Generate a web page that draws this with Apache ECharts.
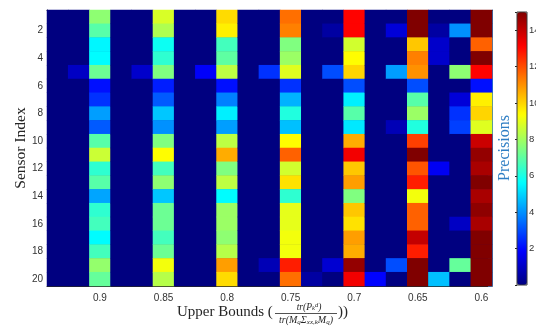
<!DOCTYPE html>
<html>
<head>
<meta charset="utf-8">
<script src="https://cdn.jsdelivr.net/npm/echarts@6/dist/echarts.min.js"></script>
<style>
  html, body { margin: 0; padding: 0; background: #fff; }
  #main { width: 536px; height: 327px; }
</style>
</head>
<body>
<div id="main"></div>
<script>
// upper bound of each column (left to right), sensor rows top to bottom
const boundLabels = ['0.933', '0.917', '0.9', '0.883', '0.867', '0.85', '0.833', '0.817', '0.8', '0.783', '0.767',
  '0.75', '0.733', '0.717', '0.7', '0.683', '0.667', '0.65', '0.633', '0.617', '0.6'];
const tickBounds = ['0.9', '0.85', '0.8', '0.75', '0.7', '0.65', '0.6'];
const sensorLabels = ['1', '2', '3', '4', '5', '6', '7', '8', '9', '10',
  '11', '12', '13', '14', '15', '16', '17', '18', '19', '20'];
const colorbarTicks = [2, 4, 6, 8, 10, 12, 14];

// precision per sensor for each upper bound
const ub0933 = [0, 0, 0, 0, 0, 0, 0, 0, 0, 0, 0, 0, 0, 0, 0, 0, 0, 0, 0, 0];
const ub0917 = [0, 0, 0, 0, 1.0, 0, 0, 0, 0, 0, 0, 0, 0, 0, 0, 0, 0, 0, 0, 0];
const ub0900 = [7.7, 6.9, 5.5, 5.6, 7.2, 2.1, 2.6, 4.2, 3.2, 6.9, 8.6, 6.3, 6.9, 4.3, 6.3, 6.6, 5.6, 6.6, 7.8, 7.1];
const ub0883 = [0, 0, 0, 0, 0, 0, 0, 0, 0, 0, 0, 0, 0, 0, 0, 0, 0, 0, 0, 0];
const ub0867 = [0, 0, 0, 0, 1.1, 0, 0, 0, 0, 0, 0, 0, 0, 0, 0, 0, 0, 0, 0, 0];
const ub0850 = [8.8, 8.2, 5.8, 6.3, 7.5, 2.3, 3.2, 4.8, 4.0, 7.5, 9.4, 6.6, 7.7, 4.8, 7.2, 7.2, 6.6, 7.2, 9.2, 8.3];
const ub0833 = [0, 0, 0, 0, 0, 0, 0, 0, 0, 0, 0, 0, 0, 0, 0, 0, 0, 0, 0, 0];
const ub0817 = [0, 0, 0, 0, 1.8, 0, 0, 0, 0, 0, 0, 0, 0, 0, 0, 0, 0, 0, 0, 0];
const ub0800 = [9.9, 9.6, 6.6, 7.0, 8.4, 2.1, 3.75, 5.4, 4.2, 8.4, 10.6, 7.5, 8.4, 5.6, 7.9, 7.9, 7.7, 8.3, 10.8, 9.9];
const ub0783 = [0, 0, 0, 0, 0, 0, 0, 0, 0, 0, 0, 0, 0, 0, 0, 0, 0, 0, 0, 0];
const ub0767 = [0, 0, 0, 0, 2.6, 0, 0, 0, 0, 0, 0, 0, 0, 0, 0, 0, 0, 0, 0.8, 0];
const ub0750 = [11.5, 11.25, 7.5, 7.9, 8.9, 2.6, 4.5, 6.1, 4.7, 9.4, 11.7, 8.7, 9.8, 6.3, 9.0, 9.0, 9.2, 9.2, 12.7, 11.5];
const ub0733 = [0, 0, 0, 0, 0, 0, 0, 0, 0, 0, 0, 0, 0, 0, 0, 0, 0, 0, 0, 0.5];
const ub0717 = [0, 0.5, 0, 0, 3.0, 0, 0, 0, 0, 0, 0, 0, 0, 0, 0, 0, 0, 0, 1.2, 0];
const ub0700 = [13.1, 13.1, 8.7, 9.4, 10.0, 3.0, 5.4, 6.9, 5.3, 10.6, 13.3, 10.2, 10.8, 7.5, 10.2, 9.8, 10.8, 10.6, 14.7, 13.3];
const ub0683 = [0, 0, 0, 0, 0, 0, 0, 0, 0, 0, 0, 0, 0, 0, 0, 0, 0, 0, 0, 1.9];
const ub0667 = [0, 1.3, 0, 0, 4.2, 0, 0, 0, 0.8, 0, 0, 0, 0, 0, 0, 0, 0, 0, 3.0, 0];
const ub0650 = [15, 15, 10.2, 11.25, 11.0, 3.0, 6.9, 7.9, 6.1, 12.2, 15, 11.9, 12.7, 9.2, 11.7, 11.7, 14.0, 12.7, 15, 15];
const ub0633 = [0, 0.5, 1.1, 1.1, 0, 0, 0, 0, 0, 0, 0, 1.7, 0, 0, 0, 0, 0, 0, 0, 4.7];
const ub0617 = [0, 4.0, 0, 0, 7.7, 0, 1.3, 2.6, 2.8, 0, 0, 0, 0, 0, 0, 1.0, 0, 0, 7.1, 0];
const ub0600 = [15, 15, 11.7, 15, 13.1, 2.1, 9.6, 10.0, 8.9, 13.9, 14.7, 14.4, 15, 14.4, 14.8, 14.4, 15, 15, 15, 15];

const columns = [ub0933, ub0917, ub0900, ub0883, ub0867, ub0850, ub0833, ub0817, ub0800, ub0783, ub0767,
  ub0750, ub0733, ub0717, ub0700, ub0683, ub0667, ub0650, ub0633, ub0617, ub0600];

// jet colormap
const jet = ['#000080', '#0000ff', '#0080ff', '#00ffff', '#80ff80', '#ffff00', '#ff8000', '#ff0000', '#800000'];

let heatData = [];
columns.forEach((col, ci) => {
  col.forEach((v, ri) => {
    heatData.push([ci, ri, v]);
  });
});

const axisColor = '#262626';
const blueAxis = '#2e7ec4';
const serif = 'Liberation Serif';
const sans = 'Liberation Sans';

let chartDom = document.getElementById('main');
let myChart = echarts.init(chartDom, null, { renderer: 'canvas' });

let showBound = (idx, val) => tickBounds.indexOf(val) >= 0;
let showSensor = (idx) => idx % 2 === 1;

let option = {
  animation: false,
  backgroundColor: '#fff',
  grid: [
    // navy background hides the seams between heatmap cells
    { left: 47, right: 44, top: 10, bottom: 41, show: true, backgroundColor: '#000080', borderWidth: 0,
      outerBoundsMode: 'none' },
    // colorbar frame + tick labels; labels may run off the page like in the original
    { left: 517, top: 12, width: 10, height: 273, show: true, z: 10, outerBoundsMode: 'none',
      backgroundColor: 'transparent', borderColor: '#3a3a3a', borderWidth: 1 }
  ],
  xAxis: [
    {
      type: 'category', gridIndex: 0, data: boundLabels, position: 'bottom',
      axisLine: { lineStyle: { color: axisColor, width: 1 } },
      axisTick: { inside: true, length: 4, alignWithLabel: true, interval: showBound, lineStyle: { color: axisColor } },
      axisLabel: { interval: showBound, color: '#333', fontSize: 10, fontFamily: sans, margin: 7 },
      splitLine: { show: false },
      splitArea: { show: false }
    },
    {
      type: 'category', gridIndex: 0, data: boundLabels, position: 'top',
      axisLine: { lineStyle: { color: axisColor, width: 1 } },
      axisTick: { inside: true, length: 4, alignWithLabel: true, interval: showBound, lineStyle: { color: axisColor } },
      axisLabel: { show: false },
      splitLine: { show: false }
    },
    { type: 'value', gridIndex: 1, show: false }
  ],
  yAxis: [
    {
      type: 'category', gridIndex: 0, data: sensorLabels, inverse: true, position: 'left',
      name: 'Sensor Index', nameLocation: 'middle', nameRotate: 90, nameGap: 18, nameMoveOverlap: false,
      nameTextStyle: { fontFamily: serif, fontSize: 15.5, color: axisColor },
      axisLine: { lineStyle: { color: axisColor, width: 1 } },
      axisTick: { inside: true, length: 4, alignWithLabel: true, interval: showSensor, lineStyle: { color: axisColor } },
      axisLabel: { interval: showSensor, color: '#333', fontSize: 10, fontFamily: sans, margin: 4 },
      splitLine: { show: false },
      splitArea: { show: false }
    },
    {
      type: 'value', gridIndex: 0, position: 'right', min: 0, max: 10, interval: 1,
      name: 'Precisions', nameLocation: 'middle', nameRotate: 90, nameGap: 5, nameMoveOverlap: false,
      nameTextStyle: { fontFamily: serif, fontSize: 16, color: blueAxis },
      axisLine: { show: true, lineStyle: { color: blueAxis, width: 1 } },
      axisTick: { show: true, inside: true, length: 4, lineStyle: { color: blueAxis } },
      axisLabel: { show: false },
      splitLine: { show: false }
    },
    {
      type: 'value', gridIndex: 1, position: 'right', min: 0, max: 15, interval: 2,
      axisLine: { show: false },
      axisTick: { show: true, inside: true, length: 2, lineStyle: { color: axisColor } },
      axisLabel: {
        show: true, align: 'left', color: '#333', fontSize: 9.5, fontFamily: sans, margin: 2,
        formatter: (v) => (colorbarTicks.indexOf(v) >= 0 ? String(v) : '')
      },
      splitLine: { show: false }
    }
  ],
  visualMap: {
    type: 'continuous',
    seriesIndex: 0,
    dimension: 2,
    min: 0,
    max: 15,
    calculable: false,
    orient: 'vertical',
    left: 517,
    top: 12,
    z: 1,
    itemWidth: 10,
    itemHeight: 273,
    padding: 0,
    text: null,
    showLabel: false,
    inRange: { color: jet }
  },
  graphic: [
    {
      type: 'text', left: 177, top: 305,
      style: { text: 'Upper Bounds (', font: '15px "Liberation Serif"', fill: axisColor }
    },
    {
      type: 'text', x: 309, y: 307,
      style: {
        text: '{a|tr(P}{b|k}{c|d}{a|)}', align: 'center', verticalAlign: 'middle',
        rich: {
          a: { fontFamily: serif, fontStyle: 'italic', fontSize: 9.5, fill: axisColor, verticalAlign: 'middle' },
          b: { fontFamily: serif, fontStyle: 'italic', fontSize: 6.5, fill: axisColor, verticalAlign: 'bottom' },
          c: { fontFamily: serif, fontStyle: 'italic', fontSize: 6.5, fill: axisColor, verticalAlign: 'top' }
        }
      }
    },
    {
      type: 'line', shape: { x1: 275, y1: 313.5, x2: 337, y2: 313.5 },
      style: { stroke: axisColor, lineWidth: 0.8 }
    },
    {
      type: 'text', x: 306, y: 320.5,
      style: {
        text: '{a|tr(M}{b|q}{a|Σ}{b|xx,k}{a|M}{b|q}{a|)}', align: 'center', verticalAlign: 'middle',
        rich: {
          a: { fontFamily: serif, fontStyle: 'italic', fontSize: 10, fill: axisColor, verticalAlign: 'middle' },
          b: { fontFamily: serif, fontStyle: 'italic', fontSize: 7, fill: axisColor, verticalAlign: 'bottom' }
        }
      }
    },
    {
      type: 'text', left: 338, top: 305,
      style: { text: '))', font: '15px "Liberation Serif"', fill: axisColor }
    }
  ],
  series: [
    {
      type: 'heatmap',
      xAxisIndex: 0,
      yAxisIndex: 0,
      data: heatData,
      itemStyle: { borderWidth: 0 },
      emphasis: { disabled: true }
    }
  ]
};

option && myChart.setOption(option);
</script>
</body>
</html>
